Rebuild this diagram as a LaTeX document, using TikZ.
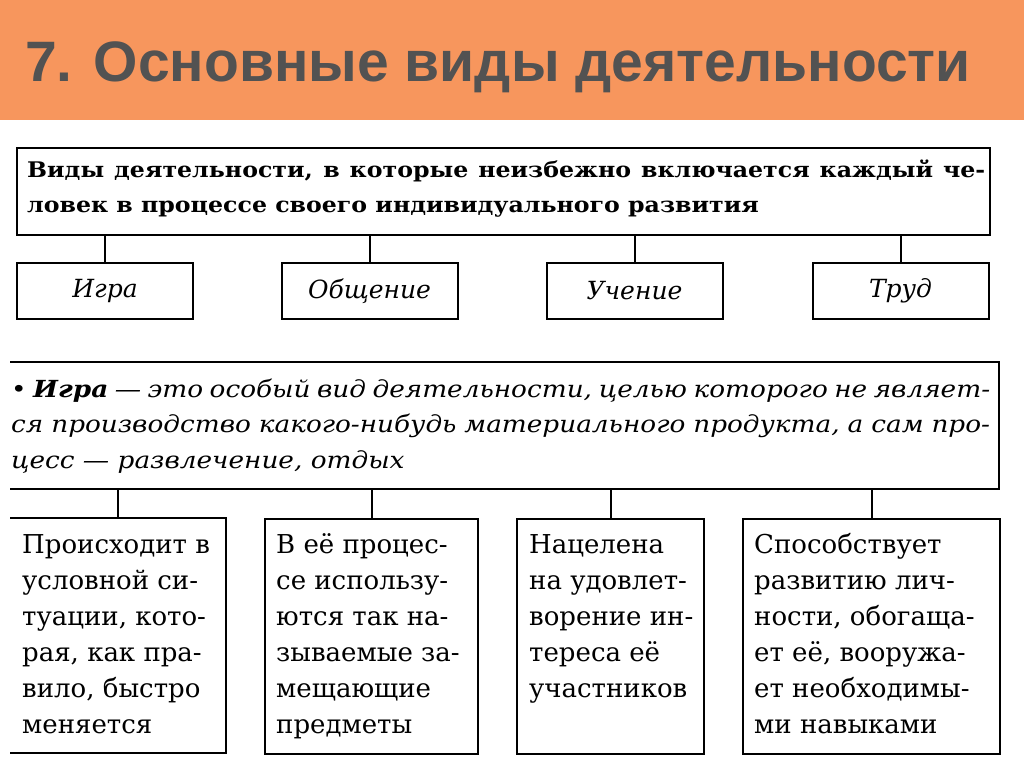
\documentclass[tikz,border=0pt]{standalone}
\usepackage{fontspec}
\setmainfont{DejaVu Serif}
\newfontfamily\headfont{Liberation Sans}
\newfontfamily\kindsfont[FakeStretch=1.1]{DejaVu Serif}
\newfontfamily\gamefont[FakeStretch=1.12]{DejaVu Serif}
\usetikzlibrary{positioning,calc}
\definecolor{bandorange}{RGB}{247,150,93}
\definecolor{titlegray}{RGB}{82,82,82}
\hyphenpenalty=10000
\exhyphenpenalty=10000

\tikzset{
  frame/.style={draw, line width=2pt, inner sep=0pt},
  openframe/.style={draw=none, inner sep=0pt},
  kind/.style={frame, minimum width=176pt, minimum height=56pt,
    font=\itshape\fontsize{25}{28}\selectfont},
  cell/.style={minimum height=235pt, anchor=north west},
  celltext/.style={align=left, inner sep=0pt, anchor=base west,
    font=\fontsize{26}{36}\selectfont},
  link/.style={line width=2pt},
}

\begin{document}
\begin{tikzpicture}[x=1pt,y=-1pt]
  \useasboundingbox (0,0) rectangle (1024,767);
  \fill[white] (0,0) rectangle (1024,767);

  % Title
  \fill[bandorange] (0,0) rectangle (1024,120);
  \node[anchor=base west, inner sep=0pt, text=titlegray,
    font=\headfont\bfseries\fontsize{57}{60}\selectfont] (title) at (25,82)
    {7. Основные виды деятельности};

  % Nodes (base anchor = last line)
  \node[frame, anchor=north west, minimum width=973pt, minimum height=87pt] (kinds) at (16,147) {};
  \node[align=left, inner sep=0pt, anchor=base west,
    font=\kindsfont\bfseries\fontsize{21.5}{35}\selectfont] (kindstext) at ($(kinds.north west)+(11,66)$)
    {\hbox to 958pt{Виды деятельности, в которые неизбежно включается каждый че-}\\
     ловек в процессе своего индивидуального развития};

  \node[kind] (play)  at (105,291)   {Игра};
  \node[kind] (talk)  at (369.5,291) {Общение};
  \node[kind] (study) at (634.5,291) {Учение};
  \node[kind] (work)  at (900.5,291) {Труд};

  % Game
  \node[openframe, anchor=north west, minimum width=989pt, minimum height=127pt] (game) at (10,362) {};
  \node[align=left, inner sep=0pt, anchor=base west,
    font=\gamefont\itshape\fontsize{23.5}{35.5}\selectfont] (gametext) at ($(game.north west)+(1,106)$)
    {\hbox to 979pt{• \textbf{Игра} — это особый вид деятельности, целью которого не являет-}\\
     \hbox to 979pt{ся производство какого-нибудь материального продукта, а сам про-}\\
     цесс — развлечение, отдых};

  % Cells
  \node[openframe, cell, minimum width=216pt] (c1) at (10,518) {};
  \node[frame, cell, minimum width=213pt] (c2) at (264,518) {};
  \node[frame, cell, minimum width=187pt] (c3) at (516,518) {};
  \node[frame, cell, minimum width=257pt] (c4) at (742,518) {};

  \node[celltext] (c1text) at ($(c1.north west)+(12,215)$)
    {Происходит в\\условной си-\\туации, кото-\\рая, как пра-\\вило, быстро\\меняется};
  \node[celltext] (c2text) at ($(c2.north west)+(12,215)$)
    {В её процес-\\се использу-\\ются так на-\\зываемые за-\\мещающие\\предметы};
  \node[celltext] (c3text) at ($(c3.north west)+(13,179)$)
    {Нацелена\\на удовлет-\\ворение ин-\\тереса её\\участников};
  \node[celltext] (c4text) at ($(c4.north west)+(12,215)$)
    {Способствует\\развитию лич-\\ности, обогаща-\\ет её, вооружа-\\ет необходимы-\\ми навыками};

  % Edges
  \foreach \n in {play,talk,study,work}
    \draw[link] (\n.north) -- (\n.north |- kinds.south);
  \foreach \n in {c1,c2,c3,c4}
    \draw[link] (\n.north) -- (\n.north |- game.south);
  \draw[link] (game.north west) -- (game.north east) -- (game.south east) -- (game.south west);
  \draw[link] (c1.north west) -- (c1.north east) -- (c1.south east) -- (c1.south west);

\end{tikzpicture}
\end{document}
